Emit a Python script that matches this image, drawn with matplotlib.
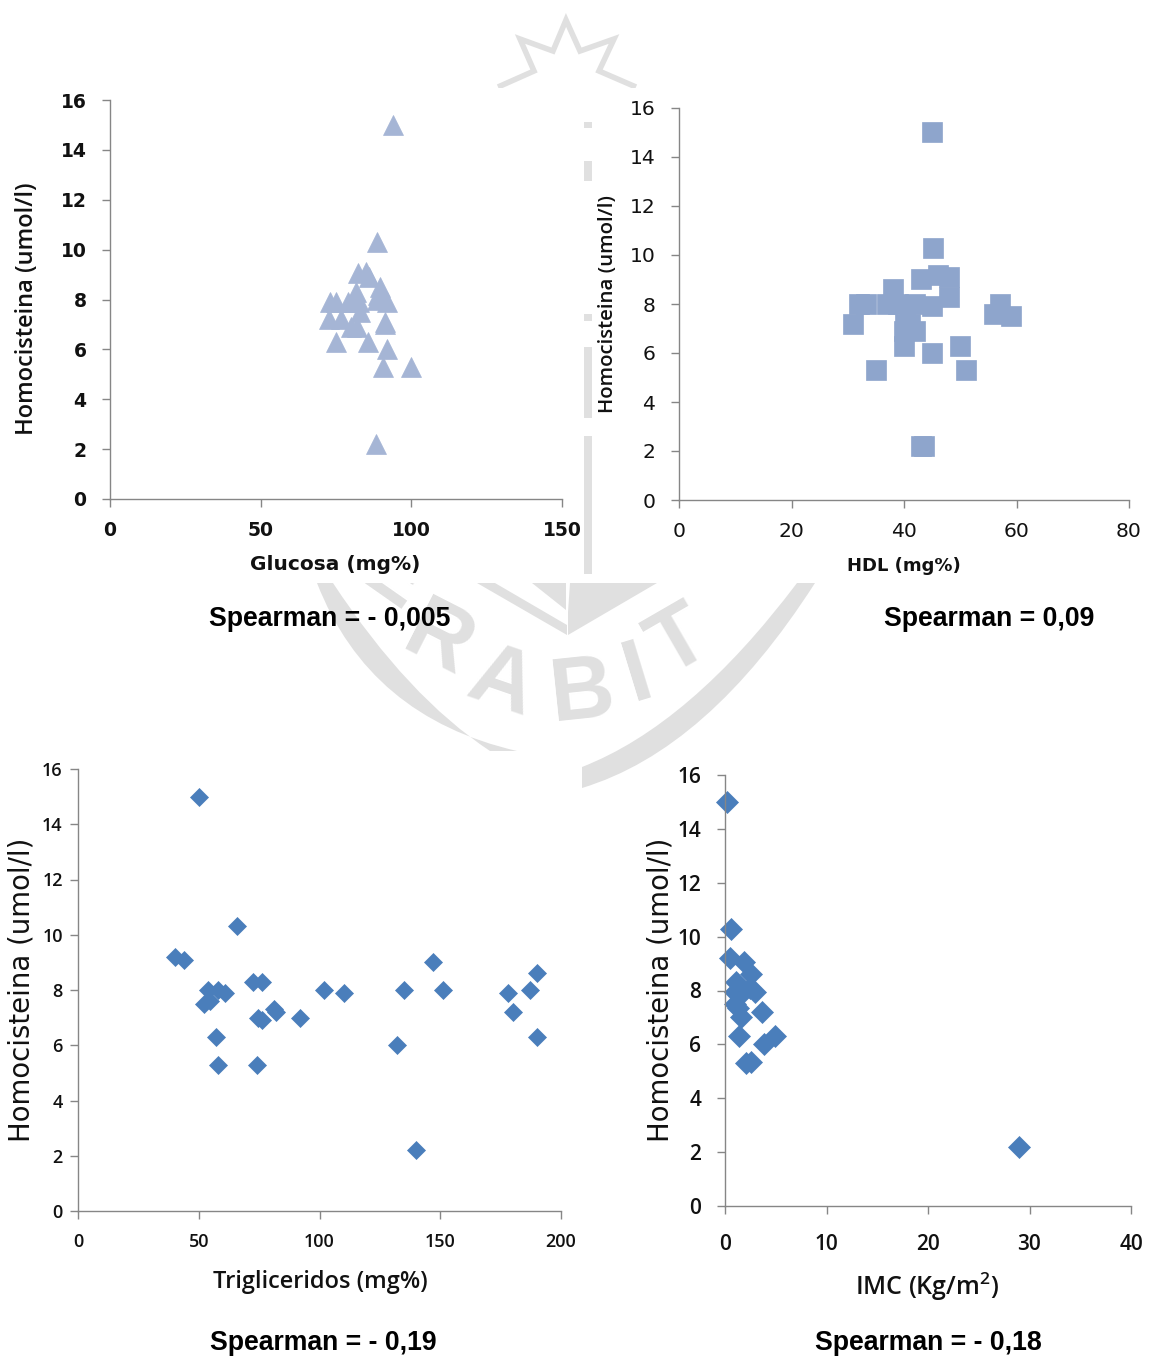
import matplotlib
matplotlib.use('agg')
import matplotlib.pyplot as plt
from matplotlib.path import Path
from matplotlib.patches import PathPatch, Rectangle, Polygon

W, H = 1152, 1356

# panel data
glucosa = [94, 88.6, 82.3, 85, 86, 89.6, 89, 81.6, 92, 88.6, 73, 75, 79, 81, 82.6, 83,
           72.7, 76.7, 91.3, 91.3, 80, 82, 75, 85.6, 92, 90.6, 100, 88.3]
homo_a = [15, 10.3, 9.06, 9.1, 8.9, 8.5, 8.2, 8.3, 7.9, 8, 7.9, 7.9, 7.9, 7.9, 7.9, 7.5,
          7.2, 7.2, 7.1, 7, 6.9, 6.9, 6.3, 6.3, 6, 5.3, 5.3, 2.2]
hdl = [45, 45.2, 43, 46, 48, 38, 48, 32, 33.3, 37, 39, 42, 45, 57, 56, 59, 31,
       40.2, 41, 42, 40, 40, 50, 45, 35, 51, 43, 43.5]
homo_b = [15, 10.3, 9, 9.2, 9.1, 8.6, 8.3, 8, 8, 8, 8, 8, 7.9, 8, 7.6, 7.5, 7.2,
          7.2, 7.2, 6.9, 6.9, 6.3, 6.3, 6, 5.3, 5.3, 2.2, 2.2]
tg = [50, 66, 40, 44, 147, 190, 72.5, 76, 54, 58, 61, 102, 110, 135, 151, 178, 187, 52,
      54.5, 74.5, 76, 81, 82, 92, 180, 57, 190, 132, 58, 74, 140]
homo_c = [15, 10.3, 9.2, 9.1, 9, 8.6, 8.3, 8.3, 8, 8, 7.9, 8, 7.9, 8, 8, 7.9, 8, 7.5,
          7.6, 7, 6.9, 7.3, 7.2, 7, 7.2, 6.3, 6.3, 6, 5.3, 5.3, 2.2]
imc = [0.2, 0.6, 0.5, 1.9, 2.6, 1.1, 1, 1.8, 3, 2.5, 1, 1.3, 3.6, 1.6, 1.4, 4.9, 3.8, 2.1, 2.6, 29]
homo_d = [15, 10.3, 9.2, 9.05, 8.6, 8.3, 7.95, 7.95, 7.95, 8.1, 7.5, 7.35, 7.2, 7, 6.3, 6.3, 6, 5.3, 5.35, 2.2]

y_ticks = [0, 2, 4, 6, 8, 10, 12, 14, 16]
fig = plt.figure(figsize=(W / 100, H / 100), dpi=100, facecolor='white')

# watermark sits on a full size pixel axes behind everything
bg = fig.add_axes([0, 0, 1, 1], zorder=0)
bg.set_xlim(0, W)
bg.set_ylim(H, 0)
bg.axis('off')
wm = '#e0e0e0'
star = [(498, 87), (534, 71), (520, 39), (553, 51), (566, 20), (580, 51), (614, 39), (599, 71), (636, 87)]
bg.add_patch(Polygon(star, closed=False, fill=False, ec=wm, lw=4, joinstyle='miter'))
bg.add_patch(Polygon([(477, 583), (567, 635), (567, 625), (495, 583)], closed=True, fc=wm, ec='none'))
bg.add_patch(Polygon([(532, 583), (566, 610), (566, 583)], closed=True, fc=wm, ec='none'))
bg.add_patch(Polygon([(568, 635), (657, 583), (570, 583), (568, 612)], closed=True, fc=wm, ec='none'))
codes = [Path.MOVETO, Path.CURVE3, Path.CURVE3, Path.LINETO, Path.CURVE3, Path.CURVE3, Path.CLOSEPOLY]
band_l = Path([(317, 583), (369, 717), (517, 751), (490, 751), (408, 697), (333, 583), (317, 583)], codes)
bg.add_patch(PathPatch(band_l, fc=wm, ec='none'))
band_r = Path([(815, 583), (708, 750), (582, 788), (582, 767), (690, 725), (797, 583), (815, 583)], codes)
bg.add_patch(PathPatch(band_r, fc=wm, ec='none'))
for s, x, y, r in [('R', 438, 642, -27), ('A', 501, 685, -19), ('B', 583, 695, 6), ('I', 638, 675, 17), ('T', 680, 642, 30)]:
    bg.text(x, y, s, color=wm, fontsize=64, fontfamily='Liberation Sans', fontweight='bold',
            rotation=r, ha='center', va='center')
bg.text(392, 578, 'E', color=wm, fontsize=64, fontfamily='Liberation Sans', fontweight='bold',
        rotation=-35, ha='center', va='center')
# white paste-ups that cut the watermark
for x0, y0, x1, y1 in [(0, 88, 584, 583), (592, 88, W, 583), (0, 751, 582, H), (584, 88, 592, 120)]:
    bg.add_patch(Rectangle((x0, y0), x1 - x0, y1 - y0, fc='white', ec='none', zorder=3))
for y0, y1 in [(122, 128), (161, 181), (314, 321), (347, 418), (436, 574)]:
    bg.add_patch(Rectangle((584, y0), 8, y1 - y0, fc=wm, ec='none', zorder=4))


def panel(box, xs, ys, xmax, xstep, marker, ms, color, tickfont, tickweight, ticksize, padx, pady,
          xlabel, xlabelpos, xlabelfont, xlabelweight, xlabelsize,
          ylabel, ylabelpos, ylabelfont, ylabelweight, ylabelsize):
    left, right, bottom, top = box
    ax = fig.add_axes([left / W, 1 - bottom / H, (right - left) / W, (bottom - top) / H], zorder=2)
    ax.patch.set_alpha(0)
    ax.plot(xs, ys, ls='none', marker=marker, ms=ms, mfc=color, mec=color, mew=0.5, clip_on=False)
    ax.set_xlim(0, xmax)
    ax.set_ylim(0, 16)
    ax.set_xticks(range(0, xmax + 1, xstep))
    ax.set_yticks(y_ticks)
    for side in ['top', 'right']:
        ax.spines[side].set_visible(False)
    for side in ['left', 'bottom']:
        ax.spines[side].set_color('#868686')
        ax.spines[side].set_linewidth(1)
    ax.tick_params(length=6, width=1, color='#868686', labelcolor='#111111')
    ax.tick_params(axis='x', pad=padx)
    ax.tick_params(axis='y', pad=pady)
    for t in ax.get_xticklabels() + ax.get_yticklabels():
        t.set_fontfamily(tickfont)
        t.set_fontweight(tickweight)
        t.set_fontsize(ticksize)
    bg.text(*xlabelpos, xlabel, ha='center', va='center', fontfamily=xlabelfont, fontweight=xlabelweight,
            fontsize=xlabelsize, color='#111111', zorder=6)
    bg.text(*ylabelpos, ylabel, ha='center', va='center', rotation=90, fontfamily=ylabelfont,
            fontweight=ylabelweight, fontsize=ylabelsize, color='#111111', zorder=6)
    return ax


panel((110, 562, 499, 100), glucosa, homo_a, 150, 50, '^', 14.5, '#a5b5d5', 'DejaVu Sans', 'bold', 13.5, 10, 11,
      'Glucosa (mg%)', (335, 565), 'DejaVu Sans', 'bold', 14.5,
      'Homocisteina (umol/l)', (27, 309), 'Open Sans', 'semibold', 17)
panel((679, 1129, 500, 108), hdl, homo_b, 80, 20, 's', 14, '#8ea5cc', 'DejaVu Sans', 'normal', 14.6, 10, 11,
      'HDL (mg%)', (904, 566), 'DejaVu Sans', 'bold', 13,
      'Homocisteina (umol/l)', (608, 304), 'Open Sans', 'semibold', 14.7)
panel((78, 561, 1211, 769), tg, homo_c, 200, 50, 'D', 9.2, '#4a7ebb', 'Open Sans', 'semibold', 13, 10, 5,
      'Trigliceridos (mg%)', (320, 1282), 'Open Sans', 'semibold', 17,
      'Homocisteina (umol/l)', (22, 990), 'DejaVu Sans', 'normal', 19.8)
panel((725, 1131, 1206, 775), imc, homo_d, 40, 10, 'D', 11, '#4a7ebb', 'Open Sans', 'semibold', 15, 14, 11,
      r'IMC (Kg/m$^{\mathregular{2}}$)', (927, 1287), 'Open Sans', 'semibold', 18,
      'Homocisteina (umol/l)', (660, 990), 'DejaVu Sans', 'normal', 19.8)

for s, x, y in [('Spearman = - 0,005', 330, 619), ('Spearman = 0,09', 989, 619),
                ('Spearman = - 0,19', 323, 1343), ('Spearman = - 0,18', 928, 1343)]:
    bg.text(x, y, s, ha='center', va='center', fontfamily='Liberation Sans', fontweight='bold',
            fontsize=19.2, color='black', zorder=6)

fig.savefig('out.png', dpi=100)
